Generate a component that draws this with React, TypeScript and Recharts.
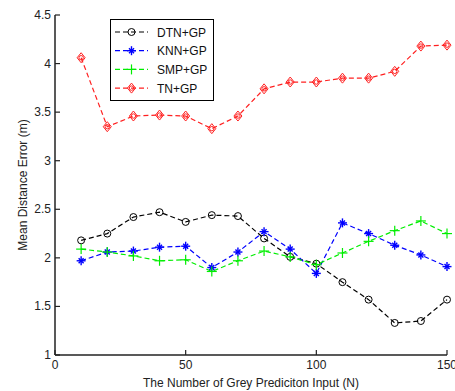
import React from 'react';
import { LineChart, Line, XAxis, YAxis, Legend, Label } from 'recharts';

const inputs = [10, 20, 30, 40, 50, 60, 70, 80, 90, 100, 110, 120, 130, 140, 150];
const dtnGp = [2.18, 2.25, 2.42, 2.47, 2.37, 2.44, 2.43, 2.2, 2.01, 1.94, 1.75, 1.57, 1.33, 1.35, 1.57];
const knnGp = [1.97, 2.06, 2.07, 2.11, 2.12, 1.9, 2.06, 2.27, 2.09, 1.84, 2.36, 2.25, 2.13, 2.03, 1.91];
const smpGp = [2.09, 2.06, 2.02, 1.97, 1.98, 1.86, 1.97, 2.07, 2.01, 1.93, 2.05, 2.17, 2.28, 2.38, 2.25];
const tnGp = [4.06, 3.35, 3.46, 3.47, 3.46, 3.33, 3.46, 3.74, 3.81, 3.81, 3.85, 3.85, 3.92, 4.18, 4.19];

const xTicks = [0, 50, 100, 150];
const yTicks = [1, 1.5, 2, 2.5, 3, 3.5, 4, 4.5];

const seriesNames = ['DTN+GP', 'KNN+GP', 'SMP+GP', 'TN+GP'];
const seriesKeys = ['dtn', 'knn', 'smp', 'tn'];
const seriesColors = ['#000000', '#0000ff', '#00ee00', '#ff2020'];

const data = inputs.map((n, i) => ({
  n,
  dtn: dtnGp[i],
  knn: knnGp[i],
  smp: smpGp[i],
  tn: tnGp[i],
}));

const AXIS = '#222';
const FONT = 'Liberation Sans, Arial, sans-serif';

function Marker({ type, cx, cy, color }: { type: string; cx: number; cy: number; color: string }) {
  if (type === 'dtn') {
    return <circle cx={cx} cy={cy} r={3.5} fill="none" stroke={color} strokeWidth={1} />;
  }
  if (type === 'knn') {
    return (
      <g stroke={color} strokeWidth={1.4}>
        <line x1={cx - 4.5} x2={cx + 4.5} y1={cy} y2={cy} />
        <line x1={cx} x2={cx} y1={cy - 4.5} y2={cy + 4.5} />
        <line x1={cx - 2.5} x2={cx + 2.5} y1={cy - 2.5} y2={cy + 2.5} />
        <line x1={cx - 2.5} x2={cx + 2.5} y1={cy + 2.5} y2={cy - 2.5} />
      </g>
    );
  }
  if (type === 'smp') {
    return (
      <g stroke={color} strokeWidth={1.2}>
        <line x1={cx - 5} x2={cx + 5} y1={cy} y2={cy} />
        <line x1={cx} x2={cx} y1={cy - 5} y2={cy + 5} />
      </g>
    );
  }
  return (
    <g stroke={color} strokeWidth={1} fill="none">
      <path d={`M${cx},${cy - 5} L${cx + 4},${cy} L${cx},${cy + 5} L${cx - 4},${cy} Z`} />
      <circle cx={cx} cy={cy} r={2.2} />
    </g>
  );
}

const makeDot = (type: string, color: string) => (props: any) => {
  const { cx, cy, index } = props;
  if (cx == null || cy == null) return <g key={`${type}-${index}`} />;
  return (
    <g key={`${type}-${index}`}>
      <Marker type={type} cx={cx} cy={cy} color={color} />
    </g>
  );
};

const BottomTick = (props: any) => {
  const { x, y, payload } = props;
  return (
    <g>
      <line x1={x} x2={x} y1={y} y2={y - 5} stroke={AXIS} strokeWidth={1.2} />
      <text x={x} y={y + 14} textAnchor="middle" fontSize={12} fontFamily={FONT} fill={AXIS}>
        {payload.value}
      </text>
    </g>
  );
};

const TopTick = (props: any) => {
  const { x, y } = props;
  return <line x1={x} x2={x} y1={y} y2={y + 5} stroke={AXIS} strokeWidth={1.2} />;
};

const LeftTick = (props: any) => {
  const { x, y, payload } = props;
  return (
    <g>
      <line x1={x} x2={x + 5} y1={y} y2={y} stroke={AXIS} strokeWidth={1.2} />
      <text x={x - 4} y={y + 4} textAnchor="end" fontSize={12} fontFamily={FONT} fill={AXIS}>
        {payload.value}
      </text>
    </g>
  );
};

const RightTick = (props: any) => {
  const { x, y } = props;
  return <line x1={x} x2={x - 5} y1={y} y2={y} stroke={AXIS} strokeWidth={1.2} />;
};

const LegendBox = () => (
  <svg width={104} height={82} style={{ display: 'block' }}>
    <rect x={0.5} y={0.5} width={103} height={81} fill="#fff" stroke="#000" strokeWidth={1} />
    {seriesKeys.map((k, i) => {
      const y = 13 + i * 18.7;
      return (
        <g key={k}>
          <line x1={5} x2={38} y1={y} y2={y} stroke={seriesColors[i]} strokeWidth={1.2} strokeDasharray="5 3" />
          <Marker type={k} cx={21.5} cy={y} color={seriesColors[i]} />
          <text x={47} y={y + 4.5} fontSize={12} fontFamily={FONT} fill="#111">
            {seriesNames[i]}
          </text>
        </g>
      );
    })}
  </svg>
);

export default function App() {
  return (
    <div style={{ position: 'absolute', left: 0, top: 0, background: '#fff' }}>
      <LineChart width={455} height={391} data={data} margin={{ top: 15, right: 8, bottom: 0, left: 15 }}>
        <XAxis
          dataKey="n"
          type="number"
          domain={[0, 150]}
          ticks={xTicks}
          height={36}
          tickSize={0}
          tickMargin={0}
          tickLine={false}
          tick={BottomTick}
          axisLine={{ stroke: AXIS, strokeWidth: 1.5 }}
          interval={0}
        >
          <Label
            value="The Number of Grey Prediciton Input (N)"
            position="insideBottom"
            offset={4}
            style={{ fontSize: 12, fontFamily: FONT, fill: '#222' }}
          />
        </XAxis>
        <XAxis
          xAxisId="top"
          orientation="top"
          type="number"
          domain={[0, 150]}
          ticks={xTicks}
          height={0}
          tickSize={0}
          tickMargin={0}
          tickLine={false}
          tick={TopTick}
          axisLine={{ stroke: AXIS, strokeWidth: 1.5 }}
          interval={0}
        />
        <YAxis
          type="number"
          domain={[1, 4.5]}
          ticks={yTicks}
          width={40}
          tickSize={0}
          tickMargin={0}
          tickLine={false}
          tick={LeftTick}
          axisLine={{ stroke: AXIS, strokeWidth: 1.5 }}
          interval={0}
        >
          <Label
            value="Mean Distance Error (m)"
            angle={-90}
            position="center"
            dx={-12}
            style={{ fontSize: 12, fontFamily: FONT, fill: '#222', textAnchor: 'middle' }}
          />
        </YAxis>
        <YAxis
          yAxisId="right"
          orientation="right"
          type="number"
          domain={[1, 4.5]}
          ticks={yTicks}
          width={0}
          tickSize={0}
          tickMargin={0}
          tickLine={false}
          tick={RightTick}
          axisLine={{ stroke: AXIS, strokeWidth: 1.5 }}
          interval={0}
        />
        <Legend
          layout="horizontal"
          verticalAlign="middle"
          align="center"
          content={() => <LegendBox />}
          wrapperStyle={{ position: 'absolute', left: 110, top: 19, width: 104, height: 82 }}
        />
        {seriesKeys.map((k, i) => (
          <Line
            key={k}
            type="linear"
            dataKey={k}
            name={seriesNames[i]}
            stroke={seriesColors[i]}
            strokeWidth={1.2}
            strokeDasharray="5 3"
            dot={makeDot(k, seriesColors[i])}
            activeDot={false}
            isAnimationActive={false}
          />
        ))}
      </LineChart>
    </div>
  );
}
